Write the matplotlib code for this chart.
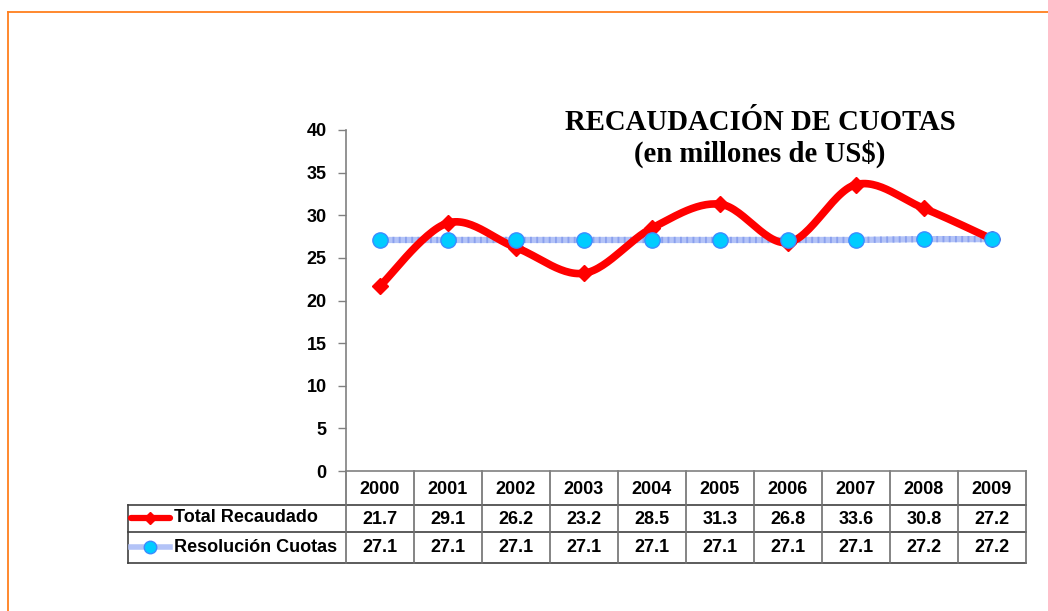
import numpy as np
import matplotlib.pyplot as plt
from matplotlib.lines import Line2D

years = ['2000', '2001', '2002', '2003', '2004', '2005', '2006', '2007', '2008', '2009']
total_recaudado = [21.7, 29.1, 26.2, 23.2, 28.5, 31.3, 26.8, 33.6, 30.8, 27.2]
resolucion_cuotas = [27.1, 27.1, 27.1, 27.1, 27.1, 27.1, 27.1, 27.1, 27.2, 27.2]
series_names = ['Total Recaudado', 'Resolución Cuotas']
yticks = [0, 5, 10, 15, 20, 25, 30, 35, 40]

RED = '#ff0000'
BLUE_LINE = '#b3c3f7'
CYAN = '#00ccff'
CYAN_EDGE = '#3a8cff'
GRID_C = '#404040'

plt.rcParams['font.family'] = ['Liberation Sans', 'DejaVu Sans']


def smooth(xs, ys, n=30):
    # Excel-like smoothed line (Catmull-Rom between the data points)
    p = np.column_stack([xs, ys]).astype(float)
    p = np.vstack([p[0], p, p[-1]])
    out = []
    t = np.linspace(0, 1, n)[:, None]
    for i in range(1, len(p) - 2):
        p0, p1, p2, p3 = p[i - 1], p[i], p[i + 1], p[i + 2]
        c1 = p1 + (p2 - p0) / 6
        c2 = p2 - (p3 - p1) / 6
        seg = ((1 - t) ** 3) * p1 + 3 * ((1 - t) ** 2) * t * c1 + 3 * (1 - t) * t ** 2 * c2 + t ** 3 * p2
        out.append(seg if i == 1 else seg[1:])
    out = np.vstack(out)
    return out[:, 0], out[:, 1]


fig = plt.figure(figsize=(10.48, 6.11), dpi=100)
W, H = 1048, 611
ax = fig.add_axes([346 / W, (H - 471) / H, 680 / W, 341 / H])

x = np.arange(len(years))

# blue series: patterned light blue line
ax.plot(x, resolucion_cuotas, color=BLUE_LINE, lw=4.5, zorder=2, solid_capstyle='butt')
ax.plot(x, resolucion_cuotas, color='#8aa0ee', lw=4.5, ls=(0, (0.3, 0.7)), zorder=2)

# red series: smoothed thick line with diamond markers
sx, sy = smooth(x, total_recaudado)
ax.plot(sx, sy, color=RED, lw=5.5, zorder=3, solid_capstyle='round')
ax.plot(x, total_recaudado, ls='none', marker='D', ms=8, color=RED, zorder=4)

ax.plot(x, resolucion_cuotas, ls='none', marker='o', ms=11, mfc=CYAN,
        mec=CYAN_EDGE, mew=1, zorder=5)

ax.set_xlim(-0.5, len(years) - 0.5)
ax.set_ylim(0, 40)
ax.set_yticks(yticks)
ax.set_yticklabels([str(v) for v in yticks], fontsize=13, fontweight='bold')
ax.tick_params(axis='y', length=6, width=1, color='#808080', pad=8)
ax.set_xticks([])
for s in ['top', 'right']:
    ax.spines[s].set_visible(False)
ax.spines['left'].set_color('#808080')
ax.spines['bottom'].set_color('#808080')
ax.spines['left'].set_linewidth(1.2)
ax.spines['bottom'].set_linewidth(1.2)


# data table under the plot, positions in pixels converted to axes fraction
def fx(px):
    return (px - 346) / 680


def fy(py):
    return (471 - py) / 341


ta = ax.transAxes
xt = ax.get_xaxis_transform()

row_lines = [505, 532, 563]
for py in row_lines:
    ax.add_line(Line2D([fx(128), fx(1026)], [fy(py), fy(py)], transform=ta,
                       color=GRID_C, lw=1.2, clip_on=False))
ax.add_line(Line2D([fx(128), fx(128)], [fy(505), fy(563)], transform=ta,
                   color=GRID_C, lw=1.2, clip_on=False))
for i in range(len(years) + 1):
    ax.add_line(Line2D([i - 0.5, i - 0.5], [0, fy(563)], transform=xt,
                       color='#707070', lw=1.2, clip_on=False))

for i, yr in enumerate(years):
    ax.text(i, fy(489), yr, transform=xt, ha='center', va='center',
            fontsize=13, fontweight='bold')
    ax.text(i, fy(519), f'{total_recaudado[i]:.1f}', transform=xt, ha='center',
            va='center', fontsize=13, fontweight='bold')
    ax.text(i, fy(548), f'{resolucion_cuotas[i]:.1f}', transform=xt, ha='center',
            va='center', fontsize=13, fontweight='bold')

# legend keys inside the table
ax.add_line(Line2D([fx(131), fx(170)], [fy(518), fy(518)], transform=ta, color=RED,
                   lw=4.5, clip_on=False, solid_capstyle='round'))
ax.add_line(Line2D([fx(150)], [fy(518)], transform=ta, marker='D', ms=6, color=RED,
                   clip_on=False))
ax.add_line(Line2D([fx(131), fx(170)], [fy(547), fy(547)], transform=ta,
                   color=BLUE_LINE, lw=4, clip_on=False))
ax.add_line(Line2D([fx(150)], [fy(547)], transform=ta, marker='o', ms=9, mfc=CYAN,
                   mec=CYAN_EDGE, clip_on=False))
ax.text(fx(174), fy(518), series_names[0], transform=ta, ha='left', va='center',
        fontsize=13, fontweight='bold')
ax.text(fx(174), fy(547), series_names[1], transform=ta, ha='left', va='center',
        fontsize=13, fontweight='bold')

# title
fig.text(760 / W, 1 - 130 / H, 'RECAUDACIÓN DE CUOTAS', ha='center', va='baseline',
         family='Liberation Serif', fontweight='bold', fontsize=20.7)
fig.text(760 / W, 1 - 162 / H, '(en millones de US$)', ha='center', va='baseline',
         family='Liberation Serif', fontweight='bold', fontsize=20.7)

# orange frame
fig.add_artist(Line2D([8 / W, 1], [1 - 12 / H, 1 - 12 / H], transform=fig.transFigure,
                      color='#ff7f1e', lw=1.3))
fig.add_artist(Line2D([8 / W, 8 / W], [0, 1 - 12 / H], transform=fig.transFigure,
                      color='#ff7f1e', lw=1.3))

fig.savefig('out.png', dpi=100)
